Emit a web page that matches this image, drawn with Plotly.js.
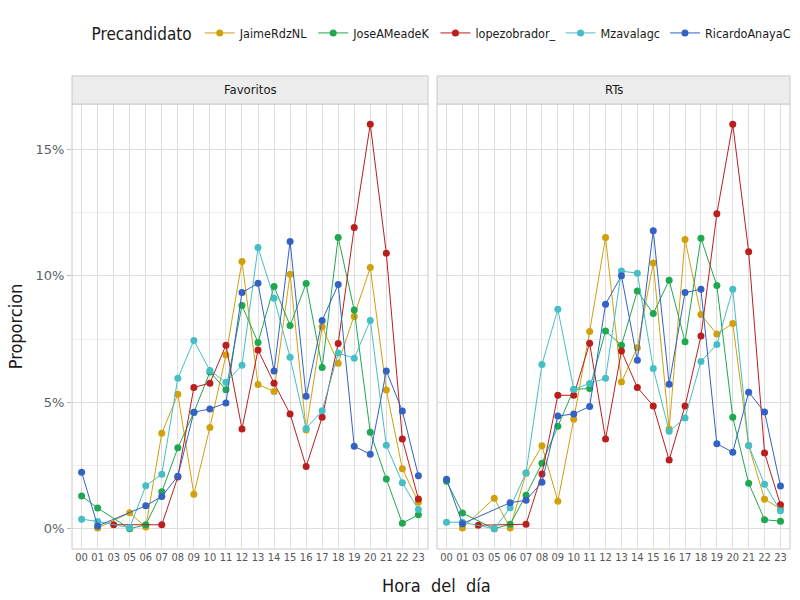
<!DOCTYPE html>
<html>
<head>
<meta charset="utf-8">
<script src="https://cdn.plot.ly/plotly-3.0.1.min.js"></script>
<style>
  html, body { margin: 0; padding: 0; background: #fff; }
  #chart { width: 800px; height: 600px; }
</style>
</head>
<body>
<div id="chart"></div>
<script>
  // horas con datos (faltan 02 y 04)
  var horas = ["00", "01", "03", "05", "06", "07", "08", "09", "10", "11", "12",
               "13", "14", "15", "16", "17", "18", "19", "20", "21", "22", "23"];

  var candidatos = ["JaimeRdzNL", "JoseAMeadeK", "lopezobrador_", "Mzavalagc", "RicardoAnayaC"];
  var colores = ["#D1A10B", "#1FA84F", "#BB1E1E", "#45BEC6", "#3362C4"];

  // proporcion (%) por hora - Favoritos
  var favJaime  = [null, 0.03, null, 0.63, 0.07, 3.78, 5.32, 1.37, 4.01, 6.87, 10.57, 5.71, 5.43, 10.07, 3.91, 7.99, 6.55, 8.40, 10.33, 5.49, 2.37, 1.05];
  var favMeade  = [1.30, 0.82, null, 0.00, 0.16, 1.46, 3.20, 4.60, 6.20, 5.50, 8.83, 7.37, 9.58, 8.04, 9.70, 6.38, 11.52, 8.65, 3.82, 1.97, 0.22, 0.55];
  var favAmlo   = [null, null, 0.16, null, null, 0.16, 2.05, 5.59, 5.76, 7.26, 3.95, 7.07, 5.76, 4.54, 2.46, 4.41, 7.33, 11.91, 16.00, 10.90, 3.55, 1.18];
  var favZavala = [0.38, 0.29, null, 0.04, 1.70, 2.16, 5.95, 7.45, 6.26, 5.79, 6.47, 11.12, 9.12, 6.78, 3.97, 4.67, 6.95, 6.74, 8.24, 3.30, 1.82, 0.76];
  var favAnaya  = [2.24, 0.11, null, null, 0.91, 1.28, 2.08, 4.61, 4.74, 4.97, 9.34, 9.71, 6.24, 11.36, 5.24, 8.24, 9.66, 3.26, 2.95, 6.24, 4.66, 2.10];

  // proporcion (%) por hora - RTs
  var rtJaime  = [null, 0.03, null, 1.21, 0.03, 2.20, 3.28, 1.09, 4.33, 7.80, 11.52, 5.80, 7.16, 10.51, 3.95, 11.44, 8.47, 7.70, 8.12, 3.29, 1.17, 0.79];
  var rtMeade  = [1.88, 0.62, null, 0.00, 0.18, 1.33, 2.59, 4.05, 5.51, 5.55, 7.82, 7.26, 9.40, 8.51, 9.83, 7.40, 11.49, 9.62, 4.41, 1.80, 0.36, 0.30];
  var rtAmlo   = [null, null, 0.14, null, null, 0.18, 2.17, 5.28, 5.28, 7.34, 3.55, 7.03, 5.59, 4.86, 2.72, 4.86, 7.62, 12.46, 16.00, 10.96, 3.00, 0.95];
  var rtZavala = [0.26, 0.26, null, 0.00, 0.83, 2.22, 6.50, 8.68, 5.51, 5.75, 5.95, 10.19, 10.11, 6.34, 3.86, 4.38, 6.62, 7.29, 9.47, 3.29, 1.76, 0.71];
  var rtAnaya  = [1.96, 0.20, null, null, 1.03, 1.13, 1.84, 4.46, 4.54, 4.84, 8.88, 10.01, 6.66, 11.79, 5.72, 9.34, 9.47, 3.36, 3.03, 5.40, 4.62, 1.69];

  var paneles = [
    { nombre: "Favoritos", xa: "x",  ya: "y",  series: [favJaime, favMeade, favAmlo, favZavala, favAnaya] },
    { nombre: "RTs",       xa: "x2", ya: "y2", series: [rtJaime, rtMeade, rtAmlo, rtZavala, rtAnaya] }
  ];

  var fuente = "DejaVu Sans Condensed, Liberation Sans Narrow, sans-serif";
  var fuenteNum = "DejaVu Sans, sans-serif";

  var data = [];
  paneles.forEach(function (p, k) {
    p.series.forEach(function (vals, i) {
      data.push({
        type: "scatter",
        mode: "lines+markers",
        x: horas,
        y: vals,
        xaxis: p.xa,
        yaxis: p.ya,
        name: candidatos[i],
        legendgroup: candidatos[i],
        showlegend: k === 0,
        connectgaps: true,
        line: { color: colores[i], width: 1 },
        marker: { color: colores[i], size: 7 },
        hoverinfo: "x+y+name"
      });
    });
  });

  function ejeX(dom) {
    return {
      domain: dom,
      type: "category",
      categoryorder: "array",
      categoryarray: horas,
      range: [-0.6, horas.length - 0.4],
      showgrid: true,
      gridcolor: "#DEDEDE",
      gridwidth: 1,
      zeroline: false,
      showline: false,
      ticks: "",
      tickangle: 0,
      tickfont: { family: fuente, size: 11, color: "#555555" },
      fixedrange: true,
      automargin: false
    };
  }

  function ejeY(labels) {
    return {
      domain: [0.085, 0.8267],
      range: [-0.8, 16.8],
      tickmode: "array",
      tickvals: [0, 5, 10, 15],
      ticktext: ["0%", "5%", "10%", "15%"],
      showticklabels: labels,
      ticks: labels ? "outside" : "",
      ticklen: 4,
      tickcolor: "#BBBBBB",
      tickfont: { family: fuenteNum, size: 13, color: "#5A5F66" },
      showgrid: true,
      gridcolor: "#DEDEDE",
      gridwidth: 1,
      minor: { tickvals: [2.5, 7.5, 12.5], showgrid: true, gridcolor: "#EFEFEF", gridwidth: 1 },
      zeroline: false,
      showline: false,
      fixedrange: true,
      automargin: false
    };
  }

  var shapes = [];
  var annotations = [];
  paneles.forEach(function (p) {
    // borde del panel
    shapes.push({ type: "rect", xref: p.xa + " domain", yref: p.ya + " domain",
      x0: 0, x1: 1, y0: 0, y1: 1, line: { color: "#C8C8C8", width: 1 }, layer: "above" });
    // franja del titulo de faceta
    shapes.push({ type: "rect", xref: p.xa + " domain", yref: p.ya + " domain",
      x0: 0, x1: 1, y0: 1, y1: 1.063, fillcolor: "#EDEDED", line: { color: "#C8C8C8", width: 1 } });
    annotations.push({ xref: p.xa + " domain", yref: p.ya + " domain", x: 0.5, y: 1.0315,
      text: p.nombre, showarrow: false, xanchor: "center", yanchor: "middle",
      font: { family: fuente, size: 13, color: "#1A1A1A" } });
  });

  annotations.push({ xref: "paper", yref: "paper", x: 0.545, y: 0.025,
    text: "Hora  del  día", showarrow: false, xanchor: "center", yanchor: "middle",
    font: { family: fuente, size: 18, color: "#1A1A1A" } });

  var yax = ejeY(true);
  yax.title = { text: "Proporcion", standoff: 8, font: { family: fuente, size: 18, color: "#1A1A1A" } };
  var yax2 = ejeY(false);
  yax2.matches = "y";

  var layout = {
    width: 800,
    height: 600,
    margin: { l: 0, r: 0, t: 0, b: 0, pad: 0, autoexpand: false },
    paper_bgcolor: "#FFFFFF",
    plot_bgcolor: "#FFFFFF",
    font: { family: fuente, color: "#1A1A1A" },
    xaxis: ejeX([0.09, 0.535]),
    xaxis2: ejeX([0.54625, 0.9875]),
    yaxis: yax,
    yaxis2: yax2,
    showlegend: true,
    legend: {
      orientation: "h",
      x: 0.112,
      xanchor: "left",
      y: 0.942,
      yanchor: "middle",
      bgcolor: "rgba(0,0,0,0)",
      title: { text: "Precandidato", side: "left", font: { family: fuente, size: 17, color: "#1A1A1A" } },
      font: { family: fuente, size: 12.5, color: "#1A1A1A" },
      itemwidth: 30,
      tracegroupgap: 0
    },
    shapes: shapes,
    annotations: annotations
  };

  Plotly.newPlot("chart", data, layout, { displayModeBar: false, staticPlot: true });
</script>
</body>
</html>
